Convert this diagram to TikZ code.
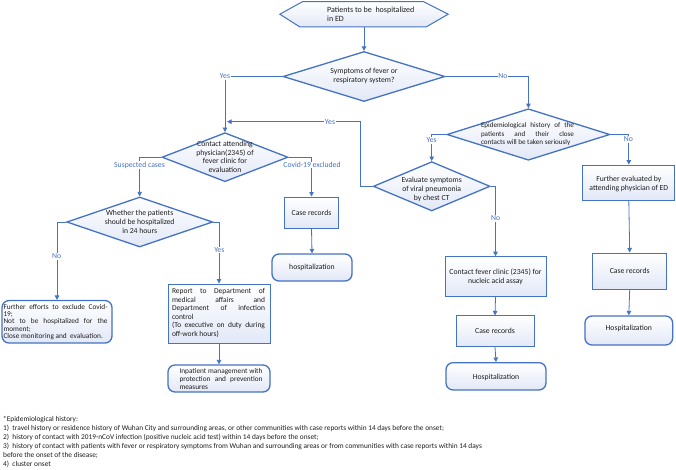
\documentclass[tikz,border=0pt]{standalone}
\usepackage{fontspec}
\setmainfont{Carlito}
\usetikzlibrary{shapes.geometric,arrows.meta,calc}
\definecolor{lblue}{RGB}{68,114,196}
\definecolor{fillc}{RGB}{226,232,247}
\definecolor{txtc}{RGB}{30,30,30}
\begin{document}
\begin{tikzpicture}[x=1pt,y=-1pt,
  line/.style={draw=lblue, line width=0.8pt},
  arr/.style={line, -{Triangle[width=4.5pt,length=4.5pt]}},
  shade/.style={shading=axis, top color=white, bottom color=fillc},
  dia/.style={diamond, draw=lblue, line width=1.3pt, inner sep=0pt, shade},
  box/.style={rectangle, draw=lblue, line width=1pt, inner sep=0pt, shade},
  rbox/.style={rectangle, rounded corners=7pt, draw=lblue, line width=1.3pt, inner sep=0pt, shade},
  txt/.style={font=\fontsize{7.7}{8.8}\selectfont, text=txtc, align=center, inner sep=0pt},
  lbl/.style={font=\fontsize{7.7}{8}\selectfont, text=lblue, fill=white, inner sep=0.6pt},
]
\useasboundingbox[fill=white] (0,0) rectangle (676,469);

% hexagon start
\node[minimum width=168pt, minimum height=25pt, inner sep=0pt] (hex) at (364,14.2) {};
\path[draw=lblue, line width=1pt, shade] (hex.west) -- ([xshift=23pt]hex.north west) -- ([xshift=-25pt]hex.north east) -- (hex.east) -- ([xshift=-22pt]hex.south east) -- ([xshift=20pt]hex.south west) -- cycle;
\node[txt, align=left, anchor=west, font=\fontsize{8}{8.8}\selectfont] (hext) at (327,14.5) {Patients to be\ \ hospitalized\\in ED};

% diamonds
\node[dia, minimum width=162pt, minimum height=50pt] (d1) at (364,76.5) {};
\node[txt] (d1t) at (364,76.3) {Symptoms of fever or\\respiratory system?};

\node[dia, minimum width=126pt, minimum height=49pt] (d2) at (225,157.2) {};
\node[txt] (d2t) at (225,156.8) {Contact attending\\physician(2345) of\\fever clinic for\\evaluation};

\node[dia, minimum width=146pt, minimum height=50pt] (d3) at (139.7,222) {};
\node[txt] (d3t) at (139.7,221.8) {Whether the patients\\should be hospitalized\\in 24 hours};

\node[dia, minimum width=163pt, minimum height=51.5pt] (d4) at (528.4,134.5) {};
\node[txt, text width=93pt, align=justify, font=\fontsize{7.1}{8.8}\selectfont] (d4t) at (527.5,134.2) {Epidemiological history of the\linebreak patients and their close\linebreak contacts will be taken seriously};

\node[dia, minimum width=116.7pt, minimum height=49.3pt] (d5) at (431.7,186.3) {};
\node[txt] (d5t) at (431.7,189.6) {Evaluate symptoms\\of viral pneumonia\\by chest CT};

% boxes
\node[box, minimum width=54pt, minimum height=31pt] (cr1) at (311.5,212.5) {};
\node[txt] at (cr1) {Case records};
\node[rbox, minimum width=80pt, minimum height=27pt] (h1) at (312,267.5) {};
\node[txt] at (h1) {hospitalization};

\node[rbox, minimum width=110pt, minimum height=42.5pt] (fe) at (57,321.8) {};
\node[txt, text width=104pt, align=justify, font=\fontsize{7.3}{7.2}\selectfont] (fet) at (55.5,322) {Further efforts to exclude Covid-\linebreak 19;\\Not to be hospitalized for the\linebreak moment;\\Close monitoring and\ \ evaluation.};

\node[box, minimum width=102pt, minimum height=59pt] (rep) at (219,313.5) {};
\node[txt, text width=93pt, align=justify, font=\fontsize{7.5}{8.5}\selectfont] (rept) at (218.5,313) {Report to Department of\linebreak medical affairs and\linebreak Department of infection\linebreak control\\(To executive on duty during\linebreak off-work hours)};

\node[rbox, minimum width=102pt, minimum height=27pt] (inp) at (219,378.5) {};
\node[txt, text width=83pt, align=justify, font=\fontsize{7.3}{8}\selectfont] (inpt) at (221,379) {Inpatient management with\linebreak protection and prevention\linebreak measures};

\node[box, minimum width=101pt, minimum height=40pt] (cf) at (495.5,276.7) {};
\node[txt] at (495.5,276.8) {Contact fever clinic (2345) for\\nucleic acid assay};
\node[box, minimum width=78pt, minimum height=30.7pt] (cr2) at (495,331.3) {};
\node[txt] at (cr2) {Case records};
\node[rbox, minimum width=100pt, minimum height=27.3pt] (h2) at (496,376.3) {};
\node[txt] at (496,377.5) {Hospitalization};

\node[box, minimum width=92.3pt, minimum height=35pt] (fev) at (628.8,182.5) {};
\node[txt] at (628.8,184.3) {Further evaluated by\\attending physician of ED};
\node[box, minimum width=74pt, minimum height=36pt] (cr3) at (629.7,271) {};
\node[txt] at (cr3) {Case records};
\node[rbox, minimum width=87.7pt, minimum height=29pt] (h3) at (628.8,330.5) {};
\node[txt] at (628.8,328.5) {Hospitalization};

% corner coordinates
\coordinate (cY1) at (d2.north |- d1.west);
\coordinate (cN1) at (d4.north |- d1.east);
\coordinate (cY4) at (d5.north |- d4.west);
\coordinate (cN4) at (fev.north |- d4.east);
\coordinate (cY5a) at (360.7,186.3);
\coordinate (cY5b) at (360.7,121.7);
\coordinate (cY5c) at (227,121.7);
\coordinate (cN5) at (cf.north |- d5.east);
\coordinate (cS) at (d3.north |- d2.west);
\coordinate (cC) at (cr1.north |- d2.east);
\coordinate (cN3) at (fe.north |- d3.west);
\coordinate (cY3) at (rep.north |- d3.east);

% connectors
\draw[arr] (hex.south) -- (d1.north);
\draw[arr] (d1.west) -- (cY1) -- (d2.north);
\draw[arr] (d1.east) -- (cN1) -- (d4.north);
\draw[arr] (d4.west) -- (cY4) -- (d5.north);
\draw[arr] (d4.east) -- (cN4) -- (fev.north);
\draw[arr] (d5.west) -- (cY5a) -- (cY5b) -- (cY5c);
\draw[arr] (d5.east) -- (cN5) -- (cf.north);
\draw[arr] (d2.west) -- (cS) -- (d3.north);
\draw[arr] (d2.east) -- (cC) -- (cr1.north);
\draw[arr] (cr1.south) -- (h1.north);
\draw[arr] (d3.west) -- (cN3) -- (fe.north);
\draw[arr] (d3.east) -- (cY3) -- (rep.north);
\draw[arr] (rep.south) -- (inp.north);
\draw[arr] (cf.south) -- (cr2.north);
\draw[arr] (cr2.south) -- (h2.north);
\draw[arr] (fev.south) -- (cr3.north);
\draw[arr] (cr3.south) -- (h3.north);

% labels
\node[lbl] (lY1) at (cY1) {Yes};
\node[lbl] (lN1) at (503,76.5) {No};
\node[lbl] (lY4) at (431.7,140.5) {Yes};
\node[lbl] (lN4) at (628.3,139.5) {No};
\node[lbl] (lY5) at (330,121.7) {Yes};
\node[lbl] (lN5) at (495.7,218.5) {No};
\node[lbl] (lS) at (139.5,165) {Suspected cases};
\node[lbl] (lC) at (312,165) {Covid-19 excluded};
\node[lbl] (lN3) at (56.7,256.5) {No};
\node[lbl] (lY3) at (219.3,250) {Yes};

% footnote
\node[anchor=north west, align=left, inner sep=0pt, text=txtc, font=\fontsize{7.35}{9}\selectfont] (foot) at (3,416.3) {*Epidemiological history:\\
1)\ \ travel history or residence history of Wuhan City and surrounding areas, or other communities with case reports within 14 days before the onset;\\
2)\ \ history of contact with 2019-nCoV infection (positive nucleic acid test) within 14 days before the onset;\\
3)\ \ history of contact with patients with fever or respiratory symptoms from Wuhan and surrounding areas or from communities with case reports within 14 days\\
before the onset of the disease;\\
4)\ \ cluster onset};
\end{tikzpicture}
\end{document}
